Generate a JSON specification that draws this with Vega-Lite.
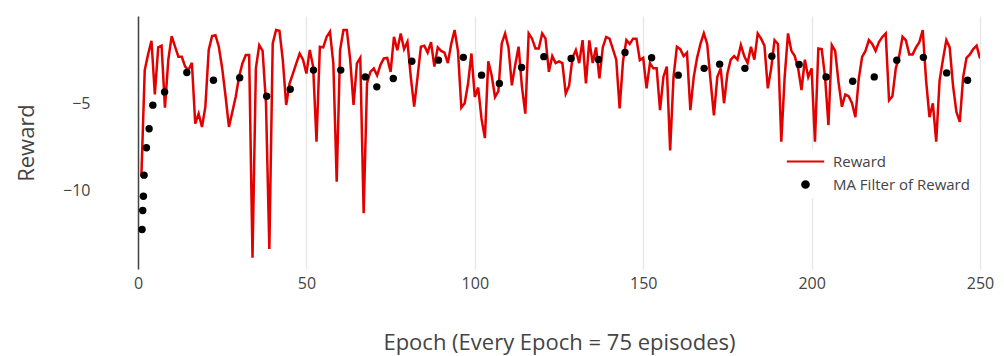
{
  "$schema": "https://vega.github.io/schema/vega-lite/v6.json",
  "width": 842,
  "height": 253,
  "autosize": "none",
  "padding": {"left": 138, "top": 16, "right": 24, "bottom": 87},
  "background": "white",
  "config": {
    "font": "Open Sans",
    "view": {"stroke": null},
    "axis": {"labelFont": "Open Sans", "titleFont": "Open Sans", "labelColor": "#444", "titleColor": "#444", "titleFontWeight": "normal"}
  },
  "datasets": {
    "reward": [
      {"epoch":1,"reward":-9.2},{"epoch":2,"reward":-3.1},{"epoch":3,"reward":-2.2},{"epoch":4,"reward":-1.42},{"epoch":5,"reward":-4.5},
      {"epoch":6,"reward":-1.8},{"epoch":7,"reward":-1.7},{"epoch":8,"reward":-5.25},{"epoch":9,"reward":-2.5},{"epoch":10,"reward":-1.15},
      {"epoch":11,"reward":-1.76},{"epoch":12,"reward":-2.34},{"epoch":13,"reward":-2.34},{"epoch":14,"reward":-2.9},{"epoch":15,"reward":-3.1},
      {"epoch":16,"reward":-2.68},{"epoch":17,"reward":-6.17},{"epoch":18,"reward":-5.6},{"epoch":19,"reward":-6.36},{"epoch":20,"reward":-5.2},
      {"epoch":21,"reward":-1.95},{"epoch":22,"reward":-1.15},{"epoch":23,"reward":-1.1},{"epoch":24,"reward":-1.76},{"epoch":25,"reward":-3.0},
      {"epoch":26,"reward":-4.6},{"epoch":27,"reward":-6.36},{"epoch":28,"reward":-5.5},{"epoch":29,"reward":-4.64},{"epoch":30,"reward":-3.5},
      {"epoch":31,"reward":-2.72},{"epoch":32,"reward":-2.24},{"epoch":33,"reward":-2.24},{"epoch":34,"reward":-13.85},{"epoch":35,"reward":-3.0},
      {"epoch":36,"reward":-1.67},{"epoch":37,"reward":-2.0},{"epoch":38,"reward":-5.0},{"epoch":39,"reward":-13.35},{"epoch":40,"reward":-1.57},
      {"epoch":41,"reward":-0.8},{"epoch":42,"reward":-0.85},{"epoch":43,"reward":-2.53},{"epoch":44,"reward":-5.1},{"epoch":45,"reward":-3.87},
      {"epoch":46,"reward":-3.3},{"epoch":47,"reward":-2.72},{"epoch":48,"reward":-2.15},{"epoch":49,"reward":-2.5},{"epoch":50,"reward":-3.3},
      {"epoch":51,"reward":-1.95},{"epoch":52,"reward":-2.9},{"epoch":53,"reward":-7.2},{"epoch":54,"reward":-1.76},{"epoch":55,"reward":-1.8},
      {"epoch":56,"reward":-1.2},{"epoch":57,"reward":-0.9},{"epoch":58,"reward":-2.72},{"epoch":59,"reward":-9.5},{"epoch":60,"reward":-1.95},
      {"epoch":61,"reward":-0.8},{"epoch":62,"reward":-0.8},{"epoch":63,"reward":-2.5},{"epoch":64,"reward":-5.1},{"epoch":65,"reward":-2.72},
      {"epoch":66,"reward":-2.4},{"epoch":67,"reward":-11.3},{"epoch":68,"reward":-3.85},{"epoch":69,"reward":-3.2},{"epoch":70,"reward":-3.0},
      {"epoch":71,"reward":-3.4},{"epoch":72,"reward":-2.8},{"epoch":73,"reward":-2.43},{"epoch":74,"reward":-2.4},{"epoch":75,"reward":-3.2},
      {"epoch":76,"reward":-1.19},{"epoch":77,"reward":-1.96},{"epoch":78,"reward":-1.0},{"epoch":79,"reward":-1.9},{"epoch":80,"reward":-1.48},
      {"epoch":81,"reward":-3.5},{"epoch":82,"reward":-5.2},{"epoch":83,"reward":-3.5},{"epoch":84,"reward":-1.76},{"epoch":85,"reward":-1.7},
      {"epoch":86,"reward":-2.1},{"epoch":87,"reward":-1.5},{"epoch":88,"reward":-2.9},{"epoch":89,"reward":-1.8},{"epoch":90,"reward":-2.0},
      {"epoch":91,"reward":-2.1},{"epoch":92,"reward":-2.7},{"epoch":93,"reward":-1.6},{"epoch":94,"reward":-0.8},{"epoch":95,"reward":-2.0},
      {"epoch":96,"reward":-5.25},{"epoch":97,"reward":-5.0},{"epoch":98,"reward":-3.87},{"epoch":99,"reward":-2.15},{"epoch":100,"reward":-4.64},
      {"epoch":101,"reward":-4.1},{"epoch":102,"reward":-5.9},{"epoch":103,"reward":-7.0},{"epoch":104,"reward":-2.6},{"epoch":105,"reward":-3.4},
      {"epoch":106,"reward":-4.64},{"epoch":107,"reward":-4.3},{"epoch":108,"reward":-1.57},{"epoch":109,"reward":-1.0},{"epoch":110,"reward":-1.8},
      {"epoch":111,"reward":-3.97},{"epoch":112,"reward":-2.8},{"epoch":113,"reward":-1.76},{"epoch":114,"reward":-4.06},{"epoch":115,"reward":-5.6},
      {"epoch":116,"reward":-1.0},{"epoch":117,"reward":-1.3},{"epoch":118,"reward":-1.86},{"epoch":119,"reward":-1.86},{"epoch":120,"reward":-1.0},
      {"epoch":121,"reward":-1.3},{"epoch":122,"reward":-3.2},{"epoch":123,"reward":-2.3},{"epoch":124,"reward":-2.7},{"epoch":125,"reward":-2.6},
      {"epoch":126,"reward":-2.7},{"epoch":127,"reward":-4.45},{"epoch":128,"reward":-4.0},{"epoch":129,"reward":-2.4},{"epoch":130,"reward":-1.95},
      {"epoch":131,"reward":-2.7},{"epoch":132,"reward":-1.38},{"epoch":133,"reward":-3.87},{"epoch":134,"reward":-1.4},{"epoch":135,"reward":-2.7},
      {"epoch":136,"reward":-1.8},{"epoch":137,"reward":-3.58},{"epoch":138,"reward":-1.8},{"epoch":139,"reward":-1.2},{"epoch":140,"reward":-1.3},
      {"epoch":141,"reward":-1.9},{"epoch":142,"reward":-2.5},{"epoch":143,"reward":-5.3},{"epoch":144,"reward":-2.6},{"epoch":145,"reward":-1.38},
      {"epoch":146,"reward":-1.6},{"epoch":147,"reward":-1.3},{"epoch":148,"reward":-1.3},{"epoch":149,"reward":-2.53},{"epoch":150,"reward":-2.4},
      {"epoch":151,"reward":-4.15},{"epoch":152,"reward":-2.7},{"epoch":153,"reward":-3.0},{"epoch":154,"reward":-3.0},{"epoch":155,"reward":-5.4},
      {"epoch":156,"reward":-3.49},{"epoch":157,"reward":-2.9},{"epoch":158,"reward":-7.7},{"epoch":159,"reward":-3.5},{"epoch":160,"reward":-1.76},
      {"epoch":161,"reward":-1.9},{"epoch":162,"reward":-2.3},{"epoch":163,"reward":-2.1},{"epoch":164,"reward":-5.4},{"epoch":165,"reward":-3.5},
      {"epoch":166,"reward":-2.4},{"epoch":167,"reward":-1.6},{"epoch":168,"reward":-1.0},{"epoch":169,"reward":-1.6},{"epoch":170,"reward":-3.7},
      {"epoch":171,"reward":-5.7},{"epoch":172,"reward":-3.5},{"epoch":173,"reward":-3.0},{"epoch":174,"reward":-5.0},{"epoch":175,"reward":-3.3},
      {"epoch":176,"reward":-2.5},{"epoch":177,"reward":-2.3},{"epoch":178,"reward":-2.5},{"epoch":179,"reward":-1.67},{"epoch":180,"reward":-2.3},
      {"epoch":181,"reward":-2.7},{"epoch":182,"reward":-1.76},{"epoch":183,"reward":-2.5},{"epoch":184,"reward":-1.0},{"epoch":185,"reward":-1.3},
      {"epoch":186,"reward":-1.7},{"epoch":187,"reward":-4.15},{"epoch":188,"reward":-3.0},{"epoch":189,"reward":-1.38},{"epoch":190,"reward":-1.6},
      {"epoch":191,"reward":-7.2},{"epoch":192,"reward":-3.5},{"epoch":193,"reward":-1.0},{"epoch":194,"reward":-2.0},{"epoch":195,"reward":-2.3},
      {"epoch":196,"reward":-3.0},{"epoch":197,"reward":-4.25},{"epoch":198,"reward":-2.5},{"epoch":199,"reward":-3.5},{"epoch":200,"reward":-3.0},
      {"epoch":201,"reward":-7.2},{"epoch":202,"reward":-1.86},{"epoch":203,"reward":-1.9},{"epoch":204,"reward":-3.5},{"epoch":205,"reward":-6.26},
      {"epoch":206,"reward":-1.67},{"epoch":207,"reward":-2.0},{"epoch":208,"reward":-3.8},{"epoch":209,"reward":-5.2},{"epoch":210,"reward":-4.5},
      {"epoch":211,"reward":-4.6},{"epoch":212,"reward":-5.0},{"epoch":213,"reward":-5.8},{"epoch":214,"reward":-3.6},{"epoch":215,"reward":-2.34},
      {"epoch":216,"reward":-2.0},{"epoch":217,"reward":-1.38},{"epoch":218,"reward":-1.6},{"epoch":219,"reward":-2.0},{"epoch":220,"reward":-1.5},
      {"epoch":221,"reward":-1.2},{"epoch":222,"reward":-1.0},{"epoch":223,"reward":-4.83},{"epoch":224,"reward":-4.6},{"epoch":225,"reward":-3.0},
      {"epoch":226,"reward":-2.3},{"epoch":227,"reward":-1.19},{"epoch":228,"reward":-1.4},{"epoch":229,"reward":-2.2},{"epoch":230,"reward":-2.2},
      {"epoch":231,"reward":-1.8},{"epoch":232,"reward":-1.5},{"epoch":233,"reward":-0.8},{"epoch":234,"reward":-3.7},{"epoch":235,"reward":-5.8},
      {"epoch":236,"reward":-5.0},{"epoch":237,"reward":-7.2},{"epoch":238,"reward":-3.7},{"epoch":239,"reward":-2.5},{"epoch":240,"reward":-1.38},
      {"epoch":241,"reward":-1.8},{"epoch":242,"reward":-4.0},{"epoch":243,"reward":-5.5},{"epoch":244,"reward":-6.07},{"epoch":245,"reward":-3.5},
      {"epoch":246,"reward":-2.4},{"epoch":247,"reward":-2.2},{"epoch":248,"reward":-1.9},{"epoch":249,"reward":-1.7},{"epoch":250,"reward":-2.43}
    ],
    "ma": [
      {"epoch":1.2,"ma":-12.24},{"epoch":1.4,"ma":-11.15},{"epoch":1.6,"ma":-10.33},{"epoch":1.8,"ma":-9.12},{"epoch":2.5,"ma":-7.55},
      {"epoch":3.3,"ma":-6.46},{"epoch":4.4,"ma":-5.11},{"epoch":7.9,"ma":-4.35},{"epoch":14.5,"ma":-3.24},{"epoch":22.4,"ma":-3.68},
      {"epoch":30.2,"ma":-3.54},{"epoch":38.2,"ma":-4.6},{"epoch":45.2,"ma":-4.2},{"epoch":52.1,"ma":-3.1},{"epoch":60.2,"ma":-3.1},
      {"epoch":67.5,"ma":-3.49},{"epoch":70.9,"ma":-4.06},{"epoch":75.8,"ma":-3.58},{"epoch":81.3,"ma":-2.59},{"epoch":89.2,"ma":-2.53},
      {"epoch":96.6,"ma":-2.37},{"epoch":102,"ma":-3.39},{"epoch":107.3,"ma":-3.87},{"epoch":113.9,"ma":-2.95},{"epoch":120.5,"ma":-2.33},
      {"epoch":128.6,"ma":-2.43},{"epoch":136.7,"ma":-2.49},{"epoch":144.6,"ma":-2.09},{"epoch":152.5,"ma":-2.39},{"epoch":160.4,"ma":-3.39},
      {"epoch":168.1,"ma":-3.0},{"epoch":172.7,"ma":-2.76},{"epoch":180.2,"ma":-3.0},{"epoch":188.2,"ma":-2.3},{"epoch":196.3,"ma":-2.78},
      {"epoch":204.3,"ma":-3.49},{"epoch":212.2,"ma":-3.74},{"epoch":218.6,"ma":-3.49},{"epoch":225.3,"ma":-2.53},{"epoch":233.2,"ma":-2.37},
      {"epoch":240.1,"ma":-3.26},{"epoch":246.3,"ma":-3.68}
    ]
  },
  "layer": [
    {
      "data": {"name": "reward"},
      "mark": {"type": "line", "strokeWidth": 2.5, "clip": true},
      "encoding": {
        "x": {
          "field": "epoch", "type": "quantitative",
          "scale": {"domain": [0, 250], "nice": false, "zero": false},
          "axis": {
            "values": [0, 50, 100, 150, 200, 250], "format": "d",
            "title": "Epoch (Every Epoch = 75 episodes)",
            "grid": true, "gridColor": "#e8e8e8", "gridWidth": 1.5,
            "domain": false, "ticks": false, "tickSize": 0,
            "labelFlush": false, "labelOverlap": false,
            "labelFontSize": 16, "labelPadding": 6,
            "titleFontSize": 22, "titleY": 73, "titleBaseline": "middle"
          }
        },
        "y": {
          "field": "reward", "type": "quantitative",
          "scale": {"domain": [-14.5, 0], "nice": false, "zero": false},
          "axis": {
            "values": [-5, -10], "format": "d",
            "title": "Reward", "grid": false,
            "domain": true, "domainColor": "#444", "domainWidth": 1.5,
            "ticks": false, "tickSize": 0, "labelFlush": false,
            "labelFontSize": 16, "labelPadding": 48,
            "titleFontSize": 22, "titleX": -112, "titleBaseline": "middle"
          }
        },
        "color": {
          "datum": "Reward", "type": "nominal",
          "scale": {"domain": ["Reward", "MA Filter of Reward"], "range": ["#e30000", "#000000"]},
          "legend": {
            "title": null, "orient": "none", "legendX": 655, "legendY": 133,
            "fillColor": "white", "padding": 5,
            "labelFont": "Open Sans", "labelFontSize": 15, "labelColor": "#444",
            "labelOffset": 20, "rowPadding": 7, "symbolSize": 45,
            "encode": {
              "symbols": {
                "update": {
                  "shape": {"signal": "datum.value === 'Reward' ? 'stroke' : 'circle'"},
                  "size": {"signal": "datum.value === 'Reward' ? 1400 : 45"},
                  "stroke": {"signal": "datum.value === 'Reward' ? '#e30000' : 'transparent'"},
                  "fill": {"signal": "datum.value === 'Reward' ? 'transparent' : '#000000'"},
                  "strokeWidth": {"value": 2},
                  "opacity": {"value": 1}
                }
              }
            }
          }
        }
      }
    },
    {
      "data": {"name": "ma"},
      "mark": {"type": "point", "filled": true, "size": 55, "opacity": 1},
      "encoding": {
        "x": {"field": "epoch", "type": "quantitative"},
        "y": {"field": "ma", "type": "quantitative"},
        "color": {"datum": "MA Filter of Reward", "type": "nominal"}
      }
    }
  ]
}
